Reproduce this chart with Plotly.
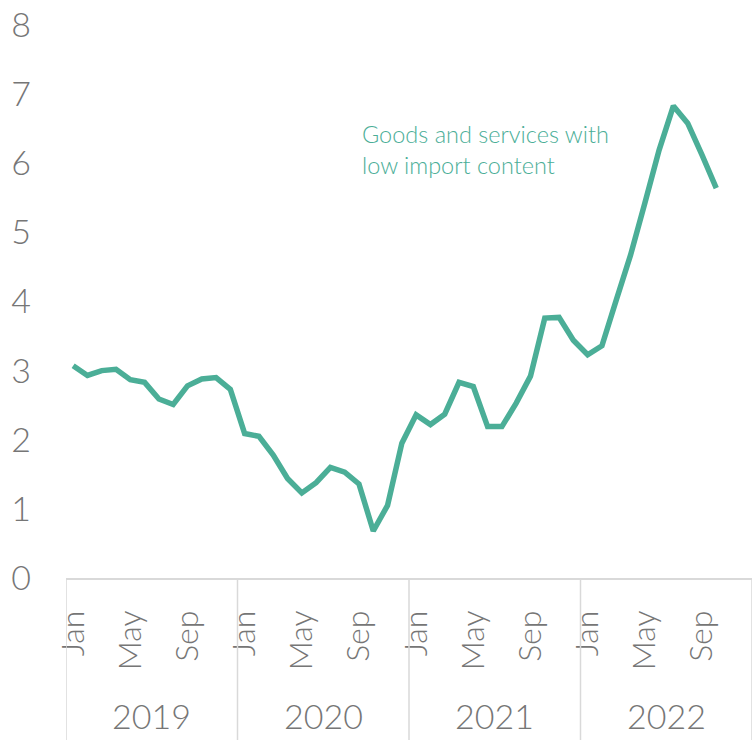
import plotly.graph_objects as go

# Monthly series, Jan 2019 - Oct 2022 (annual % change)
years = ["2019", "2020", "2021", "2022"]
months = ["Jan", "Feb", "Mar", "Apr", "May", "Jun",
          "Jul", "Aug", "Sep", "Oct", "Nov", "Dec"]
values_2019 = [3.07, 2.93, 3.00, 3.02, 2.87, 2.83, 2.59, 2.51, 2.78, 2.88, 2.90, 2.73]
values_2020 = [2.09, 2.05, 1.78, 1.44, 1.23, 1.38, 1.60, 1.53, 1.36, 0.68, 1.05, 1.95]
values_2021 = [2.36, 2.22, 2.37, 2.83, 2.77, 2.19, 2.19, 2.53, 2.92, 3.76, 3.77, 3.44]
values_2022 = [3.23, 3.36, 4.02, 4.67, 5.42, 6.19, 6.83, 6.58, 6.12, 5.64]
shown_months = ["Jan", "May", "Sep"]
series_label = "Goods and services with<br>low import content"

LINE = "#4BAE97"
GREY = "#767676"
RULE = "#D9D9D9"
FONT = "Lato"

values = values_2019 + values_2020 + values_2021 + values_2022
x_idx = list(range(len(values)))
n_slots = len(years) * len(months)

tickvals, ticktext = [], []
for yi in range(len(years)):
    for m in shown_months:
        tickvals.append(yi * 12 + months.index(m))
        ticktext.append(m)

fig = go.Figure()
fig.add_trace(go.Scatter(
    x=x_idx, y=values, mode="lines",
    line=dict(color=LINE, width=5.5),
    hoverinfo="skip", showlegend=False,
))

# year group labels and separators below the axis
for yi, yr in enumerate(years):
    fig.add_annotation(
        x=yi * 12 + 5.5, y=-0.2495, xref="x", yref="paper",
        text=yr, showarrow=False, xanchor="center", yanchor="middle",
        font=dict(family=FONT, size=34, color=GREY, weight=300),
    )
for k in range(len(years) + 1):
    fig.add_shape(
        type="line", xref="x", yref="paper",
        x0=k * 12 - 0.5, x1=k * 12 - 0.5, y0=0, y1=-0.293,
        line=dict(color=RULE, width=1.5),
    )

fig.add_annotation(
    x=20.1, y=6.2, xref="x", yref="y",
    text=series_label, showarrow=False, xanchor="left", yanchor="middle",
    align="left",
    font=dict(family=FONT, size=23.5, color=LINE, weight=300),
)

fig.update_layout(
    width=755, height=752,
    margin=dict(l=66, r=3, t=25, b=174),
    paper_bgcolor="white", plot_bgcolor="white",
    font=dict(family=FONT, color=GREY, weight=300),
)
fig.update_xaxes(
    range=[-0.5, n_slots - 0.5],
    tickmode="array", tickvals=tickvals, ticktext=ticktext,
    tickangle=-90, ticks="", ticklabelstandoff=18,
    tickfont=dict(family=FONT, size=32, color=GREY, weight=300),
    showgrid=False, zeroline=False,
    showline=True, linecolor=RULE, linewidth=1.5,
)
fig.update_yaxes(
    range=[0, 8], dtick=1,
    ticks="", ticklabelstandoff=34,
    tickfont=dict(family=FONT, size=34, color=GREY, weight=300),
    showgrid=False, zeroline=False, showline=False,
)

fig.write_html("out.html")
